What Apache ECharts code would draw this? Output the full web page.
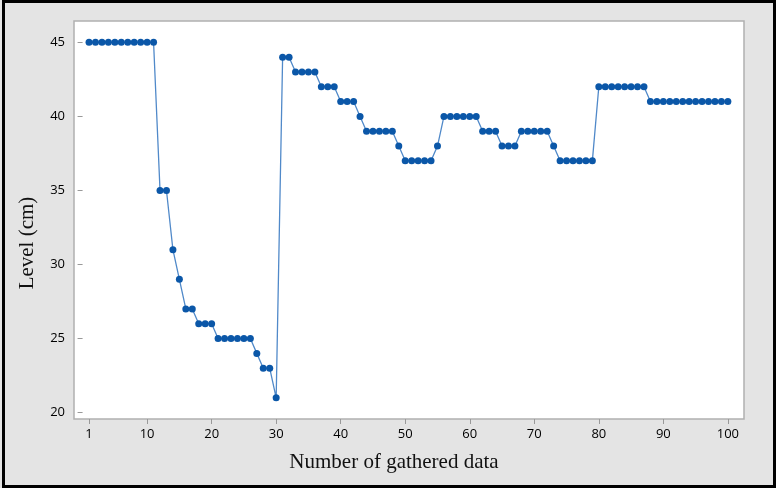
<!DOCTYPE html>
<html>
<head>
<meta charset="utf-8">
<script src="https://cdn.jsdelivr.net/npm/echarts@6/dist/echarts.min.js"></script>
<style>
  html, body { margin: 0; padding: 0; background: #e4e4e4; }
  #frame { position: absolute; left: 2px; top: 0; width: 768px; height: 482px; border: 3px solid #000; background: #e4e4e4; }
  #chart { position: absolute; left: 0; top: 0; width: 776px; height: 488px; }
</style>
</head>
<body>
<div id="frame"></div>
<div id="chart"></div>
<script>
// Sample index (1..100) and measured level in cm
const sampleIndex = Array.from({ length: 100 }, (_, i) => i + 1);
const levelCm = [
  45, 45, 45, 45, 45, 45, 45, 45, 45, 45,
  45, 35, 35, 31, 29, 27, 27, 26, 26, 26,
  25, 25, 25, 25, 25, 25, 24, 23, 23, 21,
  44, 44, 43, 43, 43, 43, 42, 42, 42, 41,
  41, 41, 40, 39, 39, 39, 39, 39, 38, 37,
  37, 37, 37, 37, 38, 40, 40, 40, 40, 40,
  40, 39, 39, 39, 38, 38, 38, 39, 39, 39,
  39, 39, 38, 37, 37, 37, 37, 37, 37, 42,
  42, 42, 42, 42, 42, 42, 42, 41, 41, 41,
  41, 41, 41, 41, 41, 41, 41, 41, 41, 41
];
const xTicks = [1, 10, 20, 30, 40, 50, 60, 70, 80, 90, 100];
const yTicks = [20, 25, 30, 35, 40, 45];

const points = sampleIndex.map((x, i) => [x, levelCm[i]]);

const chart = echarts.init(document.getElementById('chart'), null, { renderer: 'canvas' });
const tickFont = { fontFamily: '"Open Sans", "Noto Sans", sans-serif', fontSize: 13, color: '#000' };
const titleFont = { fontFamily: '"Liberation Serif", "Times New Roman", serif', fontSize: 21, color: '#111' };

chart.setOption({
  animation: false,
  backgroundColor: 'transparent',
  grid: {
    left: 74, top: 21, right: 32, bottom: 69,
    show: true, backgroundColor: '#ffffff',
    borderColor: '#b0b0b0', borderWidth: 1.5
  },
  xAxis: {
    type: 'value',
    min: -1.33, max: 102.5,
    name: 'Number of gathered data',
    nameLocation: 'middle',
    nameGap: 33,
    nameTextStyle: { ...titleFont, padding: [0, 30, 0, 0] },
    axisLine: { show: false },
    splitLine: { show: false },
    axisTick: { show: true, length: 5, customValues: xTicks, lineStyle: { color: '#999' } },
    axisLabel: { customValues: xTicks, margin: 9, ...tickFont }
  },
  yAxis: {
    type: 'value',
    min: 19.57, max: 46.44,
    name: 'Level (cm)',
    nameLocation: 'middle',
    nameGap: 36,
    nameTextStyle: { ...titleFont, padding: [0, 46, 0, 0] },
    axisLine: { show: false },
    splitLine: { show: false },
    axisTick: { show: true, length: 5, customValues: yTicks, lineStyle: { color: '#999' } },
    axisLabel: { customValues: yTicks, margin: 9, ...tickFont }
  },
  series: [{
    type: 'line',
    data: points,
    symbol: 'circle',
    symbolSize: 7,
    showAllSymbol: true,
    lineStyle: { color: '#5089c9', width: 1.3 },
    itemStyle: { color: '#0b57a8' }
  }]
});
</script>
</body>
</html>
